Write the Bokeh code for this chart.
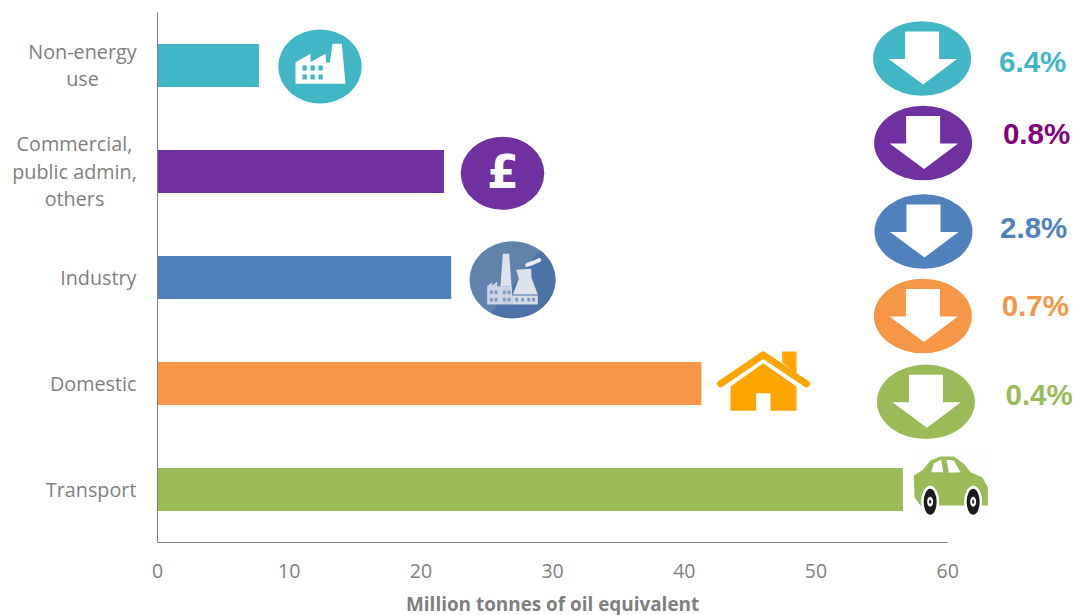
from math import cos, sin, pi
from bokeh.plotting import figure
from bokeh.models import Range1d, FixedTicker
from bokeh.core.properties import value
from bokeh.embed import file_html
from bokeh.resources import INLINE

# ---- chart data ----
categories = ["Non-energy\nuse", "Commercial,\npublic admin,\nothers", "Industry", "Domestic", "Transport"]
energy_mtoe = [7.7, 21.75, 22.3, 41.3, 56.6]
bar_colors = ["#41B6C6", "#7030A0", "#4F81BD", "#F79646", "#9BBB59"]
x_ticks = [0, 10, 20, 30, 40, 50, 60]
pct_labels = ["6.4%", "0.8%", "2.8%", "0.7%", "0.4%"]
pct_colors = ["#41B6C6", "#800080", "#4F81BD", "#F79646", "#9BBB59"]
x_title = "Million tonnes of oil equivalent"

# ---- layout of the picture, in page pixels ----
W, H = 1073, 615
LEFT, TOP, BOTTOM = 157, 12, 542
PX_PER_UNIT = 13.17
ROWS = len(categories)
PX_PER_ROW = (BOTTOM - TOP) / ROWS
row_pos = [ROWS - 0.5 - i for i in range(ROWS)]
arrow_centres = [(921.6, 58), (922.6, 142.5), (923, 231), (922.4, 315.5), (925.4, 401.3)]
pct_centres = [(1032.2, 61), (1036, 133), (1033.2, 227), (1034.8, 305), (1038.6, 394)]
label_centres = [82, 74, None, None, None]

def X(px):
    return (px - LEFT) / PX_PER_UNIT

def Y(py):
    return (BOTTOM - py) / PX_PER_ROW

def XS(pts):
    return [X(a) for a, _ in pts]

def YS(pts):
    return [Y(b) for _, b in pts]

# the plotting frame fills the whole picture, so the labels left of the axis are in it too
p = figure(width=W, height=H, output_backend="svg", toolbar_location=None,
           x_range=Range1d(X(0), X(W)), y_range=Range1d(Y(H), Y(0)),
           min_border=0, outline_line_color=None,
           background_fill_color="white", border_fill_color="white",
           styles={"position": "absolute", "left": "0px", "top": "0px"})
p.grid.visible = False

FONT = "Open Sans"
GREY = "#7F7F7F"
for ax in (p.xaxis[0], p.yaxis[0]):
    ax.axis_line_color = GREY
    ax.axis_line_width = 1
    ax.major_tick_line_color = None
    ax.minor_tick_line_color = None
    ax.major_tick_out = 0
    ax.major_tick_in = 0
    ax.fixed_location = 0
    ax.major_label_text_font = FONT
    ax.major_label_text_font_size = "19.5px"
    ax.major_label_text_color = GREY
p.xaxis[0].ticker = FixedTicker(ticks=x_ticks)
p.xaxis[0].bounds = (0, 60)
p.xaxis[0].major_label_standoff = 21
p.yaxis[0].ticker = FixedTicker(ticks=[])
p.yaxis[0].bounds = (0, ROWS)

# axis title, centred under the 0-60 span of the axis
p.text(x=[30], y=[Y(603)], text=[x_title], text_font=value(FONT), text_font_size="18.9px", text_font_style="bold",
       text_color=GREY, text_align="center", text_baseline="middle")

# category labels: several lines are centred on one another, the block ends at the right edge
for row, (cat, cxp) in enumerate(zip(categories, label_centres)):
    lines = cat.split("\n")
    mid = TOP + PX_PER_ROW * (row + 0.5) - 0.5
    for i, line in enumerate(lines):
        py = mid + 27.5 * (i - (len(lines) - 1) / 2)
        p.text(x=[X(cxp if cxp else 136)], y=[Y(py)], text=[line], text_font=value(FONT), text_font_size="19.8px",
               text_color=GREY, text_align="center" if cxp else "right", text_baseline="middle")

# bars
p.hbar(y=row_pos, right=energy_mtoe, left=0, height=43 / PX_PER_ROW, color=bar_colors, line_color=None)

# ---- arrows and percentages ----
def ell(cx, cy, w, h, color):
    p.ellipse(x=[X(cx)], y=[Y(cy)], width=[w], height=[h], width_units="screen",
              height_units="screen", fill_color=color, line_color=None)

def poly(pts, color):
    p.patch(XS(pts), YS(pts), fill_color=color, line_color=None)

for (cx, cy), col in zip(arrow_centres, bar_colors):
    ell(cx, cy, 98, 74.5, col)
    poly([(cx - 17, cy - 27), (cx + 17, cy - 27), (cx + 17, cy + 0.5), (cx + 35, cy + 0.5),
          (cx + 1, cy + 26), (cx - 33.5, cy + 0.5), (cx - 17, cy + 0.5)], "white")

for (cx, cy), lab, col in zip(pct_centres, pct_labels, pct_colors):
    p.text(x=[X(cx)], y=[Y(cy)], text=[lab], text_color=col, text_align="center", text_baseline="middle",
           text_font=value("Liberation Sans"), text_font_style="bold", text_font_size="29.5px")

# ---- icons (zoomed-crop coordinates turned into page pixels) ----
def z1(pts):
    return [(270 + a / 3, 20 + b / 3) for a, b in pts]

def z3(pts):
    return [(700 + a / 3, 270 + b / 3) for a, b in pts]

# factory
TEAL, PURPLE = bar_colors[0], bar_colors[1]
ell(319.5, 66, 83.5, 74, TEAL)
poly(z1([(75, 125), (120, 100), (120, 125), (165, 100), (167, 125), (178, 127), (186, 70), (214, 70),
         (225, 190), (75, 190)]), "white")
for a in (96, 120, 144):
    for b in (135, 162):
        poly(z1([(a, b), (a + 13, b), (a + 13, b + 15), (a, b + 15)]), TEAL)

# pound sign
ell(502, 172.8, 83.5, 73, PURPLE)
p.text(x=[X(502.5)], y=[Y(171.5)], text=["£"], text_color="white", text_align="center", text_baseline="middle",
       text_font=value("DejaVu Sans"), text_font_style="bold", text_font_size="46px")

# power plant
PC, PR = 512, 279.3
ell(PC, PR, 86, 77, "#5F83AD")
arc = [(PC + 43 * cos(t * pi / 180), PR - 38.5 * sin(t * pi / 180)) for t in range(50, -125, -5)]
poly(arc, "#4C73A7")
PL = "#DCE3ED"
poly(z1([(697, 700), (716, 700), (723, 797), (690, 797)]), PL)
poly(z1([(650, 797), (665, 785), (665, 795), (680, 783), (680, 797), (725, 797), (725, 852), (650, 852)]), "#CBD5E3")
poly(z1([(725, 825), (802, 825), (802, 852), (725, 852)]), "#D5DDE9")
poly(z1([(737, 748), (782, 745), (783, 772), (802, 822), (727, 822), (745, 775)]), PL)
smoke = z1([(770, 733), (790, 726), (806, 719)])
p.line(XS(smoke), YS(smoke), line_color="#E8EDF4", line_width=4, line_cap="round")
for a in (658, 672, 697, 711):
    for b in (810, 832):
        poly(z1([(a, b), (a + 9, b), (a + 9, b + 11), (a, b + 11)]), "#7F9CC0")
for a in (734, 752, 770, 785):
    poly(z1([(a, 832), (a + 9, 832), (a + 9, 843), (a, 843)]), "#7F9CC0")

# house
ORANGE = "#FFA500"
poly(z3([(245, 243), (288, 243), (288, 310), (245, 275)]), ORANGE)
roof = z3([(60, 340), (188, 253), (318, 340)])
p.line(XS(roof), YS(roof), line_color=ORANGE, line_width=7, line_cap="round", line_join="round")
poly(z3([(90, 348), (188, 278), (288, 348), (288, 421), (210, 421), (210, 368), (167, 368), (167, 421), (90, 421)]), ORANGE)

# car
poly(z3([(633, 545), (870, 545), (870, 737), (633, 737)]), "#FDFDFD")
GREEN = bar_colors[4]
poly(z3([(640, 615), (665, 600), (690, 570), (720, 558), (760, 558), (790, 580), (810, 605), (845, 620),
         (862, 650), (862, 705), (660, 705), (642, 680)]), GREEN)
poly(z3([(692, 605), (700, 578), (722, 568), (728, 605)]), "white")
poly(z3([(738, 568), (760, 570), (780, 605), (745, 607)]), "white")
for a in (689, 818):
    cx, cy = z3([(a, 694)])[0]
    ell(cx, cy, 18, 32, "white")
    ell(cx, cy, 13, 26, "#1A1A1A")
    ell(cx, cy, 6, 10, "white")
    ell(cx, cy, 2.5, 4, "#333333")

open("out.html", "w").write(file_html(p, INLINE))
